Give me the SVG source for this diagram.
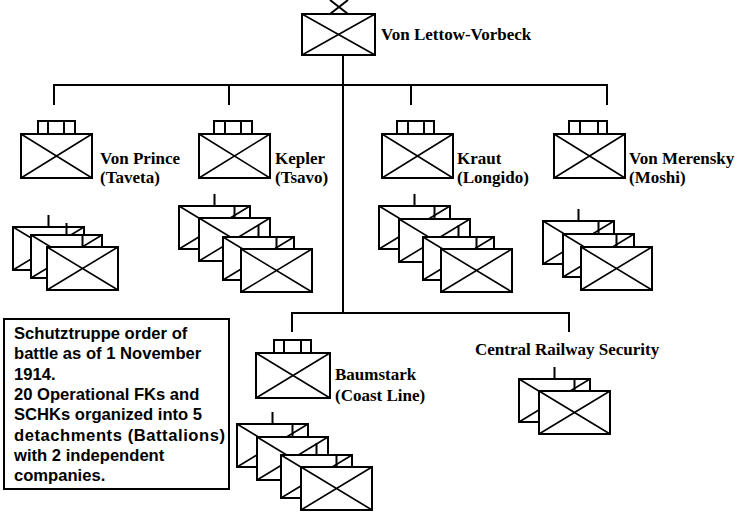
<svg xmlns="http://www.w3.org/2000/svg" xmlns:xlink="http://www.w3.org/1999/xlink" width="740" height="516" viewBox="0 0 740 516">
<style>
.ln{stroke:#000;stroke-width:2;fill:none}
.bx{stroke:#000;stroke-width:2;fill:#fff}
.x{stroke:#000;stroke-width:1.6;fill:none}
.lbl{font-family:"Liberation Serif","Times New Roman",serif;font-weight:bold;font-size:17px;fill:#000}
.note{font-family:"Liberation Sans",Arial,sans-serif;font-weight:bold;font-size:16.6px;fill:#000}
</style>
<defs>
<g id="co">
<line class="ln" x1="35.5" y1="-12" x2="35.5" y2="0"/>
<rect class="bx" x="0" y="0" width="71" height="43"/>
<path class="x" d="M0,0L71,43M71,0L0,43"/>
</g>
</defs>
<rect width="740" height="516" fill="#fff"/>
<g id="connectors">
<path class="ln" d="M343,55V313M54,105V85H607V105M229,85V105M411,85V105M292,332V313H569V332"/>
</g>
<g id="lettow">
<path class="ln" d="M330,0L348,14M348,0L330,14"/>
<rect class="bx" x="302" y="14" width="73" height="41"/>
<path class="x" d="M302,14L375,55M375,14L302,55"/>
<text class="lbl" x="381" y="40">Von Lettow-Vorbeck</text>
</g>
<g id="vonprince">
<rect class="bx" x="38" y="121" width="37" height="13"/>
<path class="ln" d="M48,121V134M64,121V134"/>
<rect class="bx" x="21" y="134" width="71" height="44"/>
<path class="x" d="M21,134L92,178M92,134L21,178"/>
<text class="lbl" x="100" y="164">Von Prince</text>
<text class="lbl" x="100" y="183">(Taveta)</text>
</g>
<g id="kepler">
<rect class="bx" x="214" y="121" width="38" height="13"/>
<path class="ln" d="M225,121V134M241,121V134"/>
<rect class="bx" x="199" y="134" width="71" height="44"/>
<path class="x" d="M199,134L270,178M270,134L199,178"/>
<text class="lbl" x="275" y="164">Kepler</text>
<text class="lbl" x="275" y="183">(Tsavo)</text>
</g>
<g id="kraut">
<rect class="bx" x="397" y="121" width="37" height="13"/>
<path class="ln" d="M408,121V134M424,121V134"/>
<rect class="bx" x="382" y="134" width="71" height="44"/>
<path class="x" d="M382,134L453,178M453,134L382,178"/>
<text class="lbl" x="457" y="164">Kraut</text>
<text class="lbl" x="457" y="183">(Longido)</text>
</g>
<g id="merensky">
<rect class="bx" x="569" y="121" width="38" height="13"/>
<path class="ln" d="M580,121V134M598,121V134"/>
<rect class="bx" x="554" y="134" width="71" height="44"/>
<path class="x" d="M554,134L625,178M625,134L554,178"/>
<text class="lbl" x="629" y="164">Von Merensky</text>
<text class="lbl" x="629" y="183">(Moshi)</text>
</g>
<g id="baumstark">
<rect class="bx" x="274" y="340" width="37" height="13"/>
<path class="ln" d="M284,340V353M301,340V353"/>
<rect class="bx" x="256" y="353" width="74" height="45"/>
<path class="x" d="M256,353L330,398M330,353L256,398"/>
<text class="lbl" x="335" y="380">Baumstark</text>
<text class="lbl" x="335" y="401">(Coast Line)</text>
</g>
<g id="central">
<text class="lbl" x="475" y="355">Central Railway Security</text>
</g>
<g id="vonprince-companies">
<use xlink:href="#co" x="13" y="227"/>
<use xlink:href="#co" x="31" y="235"/>
<use xlink:href="#co" x="47" y="247"/>
</g>
<g id="kepler-companies">
<use xlink:href="#co" x="179" y="206"/>
<use xlink:href="#co" x="199" y="218"/>
<use xlink:href="#co" x="223" y="237"/>
<use xlink:href="#co" x="241" y="249"/>
</g>
<g id="kraut-companies">
<use xlink:href="#co" x="379" y="206"/>
<use xlink:href="#co" x="399" y="219"/>
<use xlink:href="#co" x="423" y="237"/>
<use xlink:href="#co" x="441" y="249"/>
</g>
<g id="merensky-companies">
<use xlink:href="#co" x="543" y="221"/>
<use xlink:href="#co" x="563" y="234"/>
<use xlink:href="#co" x="581" y="247"/>
</g>
<g id="baumstark-companies">
<use xlink:href="#co" x="237" y="424"/>
<use xlink:href="#co" x="257" y="437"/>
<use xlink:href="#co" x="281" y="455"/>
<use xlink:href="#co" x="301" y="467"/>
</g>
<g id="central-companies">
<use xlink:href="#co" x="519" y="379"/>
<use xlink:href="#co" x="539" y="391"/>
</g>
<g id="note">
<rect class="ln" x="4" y="319" width="225" height="170"/>
<text class="note" x="14" y="339">Schutztruppe order of</text>
<text class="note" x="14" y="359">battle as of 1 November</text>
<text class="note" x="14" y="379.5">1914.</text>
<text class="note" x="14" y="400">20 Operational FKs and</text>
<text class="note" x="14" y="420">SCHKs organized into 5</text>
<text class="note" x="14" y="440.5" textLength="211" lengthAdjust="spacing">detachments (Battalions)</text>
<text class="note" x="14" y="461">with 2 independent</text>
<text class="note" x="14" y="481">companies.</text>
</g>
</svg>
